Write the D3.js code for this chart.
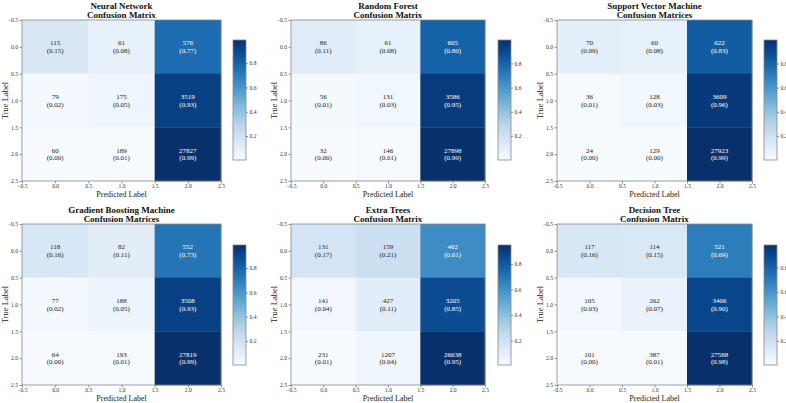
<!DOCTYPE html>
<html>
<head>
<meta charset="utf-8">
<script src="https://cdn.jsdelivr.net/npm/d3@7"></script>
<style>
  body { margin: 0; background: #fff; }
  svg text { font-family: "Liberation Serif", "DejaVu Serif", serif; }
</style>
</head>
<body>
<div id="chart"></div>
<script>
// --- data ---
const models = [
  ["Neural Network", "Confusion Matrix"],
  ["Random Forest", "Confusion Matrix"],
  ["Support Vector Machine", "Confusion Matrices"],
  ["Gradient Boosting Machine", "Confusion Matrices"],
  ["Extra Trees", "Confusion Matrix"],
  ["Decision Tree", "Confusion Matrix"]
];
const nnCounts  = [[115, 61, 576], [79, 175, 3519], [60, 189, 27827]];
const rfCounts  = [[86, 61, 605], [56, 131, 3586], [32, 146, 27898]];
const svmCounts = [[70, 60, 622], [36, 128, 3609], [24, 129, 27923]];
const gbmCounts = [[118, 82, 552], [77, 188, 3508], [64, 193, 27819]];
const etCounts  = [[131, 159, 462], [141, 427, 3205], [231, 1207, 26638]];
const dtCounts  = [[117, 114, 521], [105, 262, 3406], [101, 387, 27588]];
const allCounts = [nnCounts, rfCounts, svmCounts, gbmCounts, etCounts, dtCounts];
const axisTicks = [-0.5, 0.0, 0.5, 1.0, 1.5, 2.0, 2.5];
const cbarTicks = [0.2, 0.4, 0.6, 0.8];

const W = 786, H = 403;
const svg = d3.select("#chart").append("svg").attr("width", W).attr("height", H);

// panel geometry (per column / row)
const colX0 = [22, 291, 557], colX1 = [221, 485, 752], cbX = [233, 498, 764];
const rowY0 = [20, 224], rowY1 = [181, 385], cbY0 = [40, 245], cbY1 = [160, 365];
const spine = "#888";

allCounts.forEach((counts, k) => {
  const c = k % 3, r = Math.floor(k / 3);
  const x0 = colX0[c], x1 = colX1[c], y0 = rowY0[r], y1 = rowY1[r];

  // row-normalised matrix
  const norm = counts.map(row => { const s = d3.sum(row); return row.map(v => v / s); });
  const flat = norm.flat();
  const vmin = d3.min(flat), vmax = d3.max(flat);
  const color = d3.scaleSequential(d3.interpolateBlues).domain([vmin, vmax]);

  const x = d3.scaleLinear().domain([-0.5, 2.5]).range([x0, x1]);
  const y = d3.scaleLinear().domain([-0.5, 2.5]).range([y0, y1]);

  const g = svg.append("g");

  // cells
  const cells = [];
  counts.forEach((row, i) => row.forEach((v, j) => cells.push({ i, j, v, p: norm[i][j] })));
  g.selectAll("rect.cell").data(cells).enter().append("rect")
    .attr("x", d => x(d.j - 0.5)).attr("y", d => y(d.i - 0.5))
    .attr("width", x(1) - x(0) + 0.3).attr("height", y(1) - y(0) + 0.3)
    .attr("fill", d => color(d.p));

  const txt = g.selectAll("text.cell").data(cells).enter().append("text")
    .attr("text-anchor", "middle")
    .attr("font-size", "7px")
    .attr("fill", d => d.p > vmax / 2 ? "#fff" : "#222");
  txt.append("tspan").attr("x", d => x(d.j)).attr("y", d => y(d.i) - 1.5).text(d => d.v);
  txt.append("tspan").attr("x", d => x(d.j)).attr("y", d => y(d.i) + 6.2)
    .text(d => "(" + d.p.toFixed(2) + ")");

  // axes
  const fmt = d3.format(".1f");
  const ax = g.append("g").attr("transform", `translate(0,${y1})`)
    .call(d3.axisBottom(x).tickValues(axisTicks).tickFormat(fmt).tickSize(2.5).tickPadding(1));
  const ay = g.append("g").attr("transform", `translate(${x0},0)`)
    .call(d3.axisLeft(y).tickValues(axisTicks).tickFormat(fmt).tickSize(2.5).tickPadding(1.5));
  [ax, ay].forEach(a => {
    a.select(".domain").remove();
    a.selectAll("line").attr("stroke", "#444").attr("stroke-width", 0.6);
    a.selectAll("text").attr("font-size", "5.6px").attr("fill", "#333")
      .attr("font-family", "Liberation Serif, serif");
  });
  g.append("rect").attr("x", x0).attr("y", y0).attr("width", x1 - x0).attr("height", y1 - y0)
    .attr("fill", "none").attr("stroke", spine).attr("stroke-width", 0.8);

  // labels
  g.append("text").attr("x", (x0 + x1) / 2).attr("y", y1 + 16).attr("text-anchor", "middle")
    .attr("font-size", "8px").attr("fill", "#222").text("Predicted Label");
  g.append("text").attr("transform", `translate(${x0 - 14},${(y0 + y1) / 2}) rotate(-90)`)
    .attr("text-anchor", "middle").attr("font-size", "8.5px").attr("fill", "#222").text("True Label");

  // title
  const tt = g.append("text").attr("text-anchor", "middle").attr("font-size", "9px")
    .attr("font-weight", "bold").attr("fill", "#111");
  tt.append("tspan").attr("x", (x0 + x1) / 2).attr("y", y0 - 11).text(models[k][0]);
  tt.append("tspan").attr("x", (x0 + x1) / 2).attr("y", y0 - 2.4).text(models[k][1]);

  // colorbar
  const cb0 = cbY0[r], cb1 = cbY1[r], cx = cbX[c], cw = 13;
  const cy = d3.scaleLinear().domain([vmin, vmax]).range([cb1, cb0]);
  const gradId = "grad" + k;
  const grad = svg.append("defs").append("linearGradient").attr("id", gradId)
    .attr("x1", 0).attr("y1", 1).attr("x2", 0).attr("y2", 0);
  d3.range(0, 1.0001, 0.05).forEach(t => {
    grad.append("stop").attr("offset", t).attr("stop-color", d3.interpolateBlues(t));
  });
  g.append("rect").attr("x", cx).attr("y", cb0).attr("width", cw).attr("height", cb1 - cb0)
    .attr("fill", `url(#${gradId})`).attr("stroke", spine).attr("stroke-width", 0.8);
  const ac = g.append("g").attr("transform", `translate(${cx + cw},0)`)
    .call(d3.axisRight(cy).tickValues(cbarTicks).tickFormat(fmt).tickSize(2).tickPadding(1.5));
  ac.select(".domain").remove();
  ac.selectAll("line").attr("stroke", "#444").attr("stroke-width", 0.6);
  ac.selectAll("text").attr("font-size", "5.6px").attr("fill", "#333")
    .attr("font-family", "Liberation Serif, serif");
});
</script>
</body>
</html>
